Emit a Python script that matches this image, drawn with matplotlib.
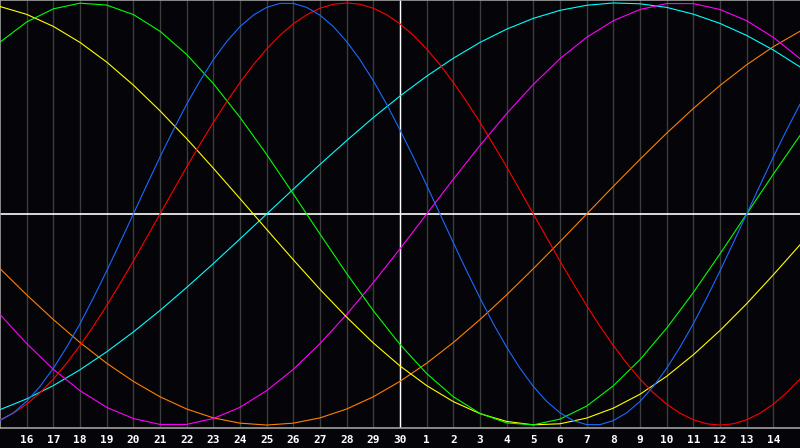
import numpy as np
import matplotlib
matplotlib.use("Agg")
import matplotlib.pyplot as plt

# day labels shown under the chart (positions 1..29)
day_labels = [str(d) for d in range(16, 31)] + [str(d) for d in range(1, 15)]

# values; blue and red every half day, the others every day
blue = [-0.979, -0.942, -0.888, -0.817, -0.731, -0.631, -0.520, -0.398, -0.270, -0.136,
        0.0, 0.136, 0.270, 0.398, 0.520, 0.631, 0.731, 0.817, 0.888, 0.942,
        0.979, 0.998, 0.998, 0.979, 0.942, 0.888, 0.817, 0.731, 0.631, 0.520,
        0.398, 0.270, 0.136, 0.0, -0.136, -0.270, -0.398, -0.520, -0.631, -0.731,
        -0.817, -0.888, -0.942, -0.979, -0.998, -0.998, -0.979, -0.942, -0.888, -0.817,
        -0.731, -0.631, -0.520, -0.398, -0.270, -0.136, 0.0, 0.136, 0.270, 0.398, 0.520]
red = [-0.975, -0.944, -0.901, -0.847, -0.782, -0.707, -0.623, -0.532, -0.434, -0.330,
       -0.223, -0.112, 0.0, 0.112, 0.223, 0.330, 0.434, 0.532, 0.623, 0.707,
       0.782, 0.847, 0.901, 0.944, 0.975, 0.994, 1.000, 0.994, 0.975, 0.944,
       0.901, 0.847, 0.782, 0.707, 0.623, 0.532, 0.434, 0.330, 0.223, 0.112,
       0.0, -0.112, -0.223, -0.330, -0.434, -0.532, -0.623, -0.707, -0.782, -0.847,
       -0.901, -0.944, -0.975, -0.994, -1.000, -0.994, -0.975, -0.944, -0.901, -0.847, -0.782]
green = [0.814, 0.910, 0.972, 0.999, 0.990, 0.945, 0.866, 0.756, 0.618, 0.458,
         0.282, 0.095, -0.095, -0.282, -0.458, -0.618, -0.756, -0.866, -0.945, -0.990,
         -0.999, -0.972, -0.910, -0.814, -0.690, -0.541, -0.372, -0.189, 0.0, 0.189, 0.372]
magenta = [-0.476, -0.614, -0.736, -0.837, -0.916, -0.969, -0.997, -0.997, -0.969, -0.916,
           -0.837, -0.736, -0.614, -0.476, -0.325, -0.165, 0.0, 0.165, 0.325, 0.476,
           0.614, 0.736, 0.837, 0.916, 0.969, 0.997, 0.997, 0.969, 0.916, 0.837, 0.736]
yellow = [0.983, 0.946, 0.889, 0.813, 0.720, 0.611, 0.489, 0.357, 0.217, 0.073,
          -0.073, -0.217, -0.357, -0.489, -0.611, -0.720, -0.813, -0.889, -0.946, -0.983,
          -0.999, -0.994, -0.967, -0.920, -0.854, -0.769, -0.667, -0.552, -0.425, -0.288, -0.146]
orange = [-0.259, -0.383, -0.500, -0.609, -0.707, -0.793, -0.866, -0.924, -0.966, -0.991,
          -1.000, -0.991, -0.966, -0.924, -0.866, -0.793, -0.707, -0.609, -0.500, -0.383,
          -0.259, -0.131, 0.0, 0.131, 0.259, 0.383, 0.500, 0.609, 0.707, 0.793, 0.866]
cyan = [-0.927, -0.876, -0.813, -0.738, -0.653, -0.559, -0.457, -0.348, -0.235, -0.118,
        0.0, 0.118, 0.235, 0.348, 0.457, 0.559, 0.653, 0.738, 0.813, 0.876,
        0.927, 0.965, 0.989, 1.000, 0.996, 0.979, 0.947, 0.903, 0.846, 0.777, 0.697]

days = np.arange(31)
half_days = np.arange(61) / 2

fig = plt.figure(figsize=(8, 4.48), dpi=100, facecolor='#050408')
ax = fig.add_axes([0, 20 / 448, 1, 428 / 448])
ax.set_facecolor('#050408')

# vertical day grid
for d in range(1, 30):
    ax.axvline(d, color='#3c3c3c', lw=1, zorder=1)
ax.axvline(15, color='white', lw=1, zorder=2)
ax.axhline(0, color='white', lw=1.2, zorder=2)

series = [(days, orange, '#ff8000'), (days, cyan, '#00ffff'), (days, magenta, '#ff00ff'),
          (days, yellow, '#ffff00'), (days, green, '#00ff00'), (half_days, red, '#ff0000'),
          (half_days, blue, '#1a6aff')]
for xs, vals, col in series:
    ax.plot(xs, vals, color=col, lw=0.8, zorder=3)

ax.set_xlim(0, 30)
ax.set_ylim(-1.014, 1.014)
ax.set_xticks(range(1, 30))
ax.set_xticklabels(day_labels, color='white', fontsize=8, fontweight='bold',
                   family='DejaVu Sans Mono')
ax.tick_params(axis='x', length=0, pad=5)
ax.set_yticks([])
for side in ['left', 'top', 'bottom']:
    ax.spines[side].set_color('#a0a0a0')
    ax.spines[side].set_linewidth(1.2)
ax.spines['right'].set_visible(False)

plt.savefig('out.png', dpi=100, facecolor=fig.get_facecolor())
